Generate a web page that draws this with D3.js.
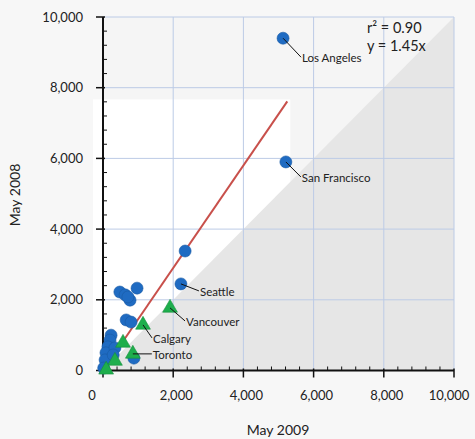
<!DOCTYPE html>
<html>
<head>
<meta charset="utf-8">
<script src="https://cdn.jsdelivr.net/npm/d3@7"></script>
<style>
  html, body { margin: 0; padding: 0; background: #f7f7f7; }
  svg { display: block; font-family: Lato, "Open Sans", sans-serif; }
</style>
</head>
<body>
<script>
(function() {
    'use strict';

    // US metros (blue) and Canadian metros (green): [May 2009, May 2008]
    var blueX = [5130, 5210, 2340, 2220, 480, 630, 770, 970, 710, 660, 800, 230, 200, 140, 85, 60, 20, 340, 290, 880];
    var blueY = [9400, 5900, 3380, 2450, 2220, 2140, 1990, 2330, 2080, 1430, 1370, 1000, 860, 670, 500, 300, 70, 640, 440, 350];
    var greenX = [1910, 1140, 570, 850, 340, 90];
    var greenY = [1770, 1290, 780, 470, 270, 20];

    var labelNames = ['Los Angeles', 'San Francisco', 'Seattle', 'Vancouver', 'Calgary', 'Toronto'];
    var labelX = [5130, 5210, 2220, 1910, 1140, 850];
    var labelY = [9400, 5900, 2450, 1770, 1290, 470];

    var tickValues = [0, 2000, 4000, 6000, 8000, 10000];
    var slope = 1.45;
    var fitEndX = 5250;
    var statLines = ['r\u00b2 = 0.90', 'y = 1.45x'];

    // label offsets in pixels, same order as labelNames
    var labelDx = [19, 16, 19, 16, 10, 20];
    var labelDy = [24, 20, 12, 18, 18, 5];

    var width = 475, height = 439;

    var svg = d3.select('body').append('svg')
        .attr('width', width)
        .attr('height', height);

    svg.append('rect')
        .attr('width', width)
        .attr('height', height)
        .attr('fill', '#f7f7f7');

    var x = d3.scaleLinear().domain([0, 10000]).range([103, 454]);
    var y = d3.scaleLinear().domain([0, 10000]).range([370.5, 17]);

    // plot background
    svg.append('rect')
        .attr('x', x(0)).attr('y', y(10000))
        .attr('width', x(10000) - x(0)).attr('height', y(0) - y(10000))
        .attr('fill', '#f5f5f5');

    // white box behind the fit line
    svg.append('rect')
        .attr('x', x(0) - 10).attr('y', y(fitEndX * slope) - 2)
        .attr('width', x(fitEndX) - x(0) + 13)
        .attr('height', y(0) - y(fitEndX * slope) + 2)
        .attr('fill', '#ffffff');

    // region below y = x
    svg.append('path')
        .attr('d', d3.line()([[x(0), y(0)], [x(10000), y(0)], [x(10000), y(10000)]]) + 'Z')
        .attr('fill', '#e6e6e6');

    // grid
    var grid = svg.append('g');
    grid.selectAll('line.v').data(tickValues.slice(1)).enter().append('line')
        .attr('x1', function(d) { return x(d); }).attr('x2', function(d) { return x(d); })
        .attr('y1', y(10000)).attr('y2', y(0))
        .attr('stroke', '#bccbe6').attr('stroke-width', 1);
    grid.selectAll('line.h').data(tickValues.slice(1)).enter().append('line')
        .attr('y1', function(d) { return y(d); }).attr('y2', function(d) { return y(d); })
        .attr('x1', x(0)).attr('x2', x(10000))
        .attr('stroke', '#bccbe6').attr('stroke-width', 1);

    // minor ticks (inward)
    var minor = d3.range(0, 10001, 400).filter(function(d) { return d % 2000 !== 0; });
    var axes = svg.append('g').attr('stroke', '#111');
    axes.selectAll('line.mx').data(minor).enter().append('line')
        .attr('x1', function(d) { return x(d); }).attr('x2', function(d) { return x(d); })
        .attr('y1', y(0)).attr('y2', y(0) - 4).attr('stroke-width', 1);
    axes.selectAll('line.my').data(minor).enter().append('line')
        .attr('y1', function(d) { return y(d); }).attr('y2', function(d) { return y(d); })
        .attr('x1', x(0)).attr('x2', x(0) + 4).attr('stroke-width', 1);

    // major ticks
    axes.selectAll('line.Mx').data(tickValues).enter().append('line')
        .attr('x1', function(d) { return x(d); }).attr('x2', function(d) { return x(d); })
        .attr('y1', y(0) - 2).attr('y2', y(0) + 7).attr('stroke-width', 1.5);
    axes.selectAll('line.My').data(tickValues).enter().append('line')
        .attr('y1', function(d) { return y(d); }).attr('y2', function(d) { return y(d); })
        .attr('x1', x(0) - 7).attr('x2', x(0) + 2).attr('stroke-width', 1.5);

    axes.append('line')
        .attr('x1', x(0)).attr('x2', x(10000)).attr('y1', y(0)).attr('y2', y(0))
        .attr('stroke-width', 2);
    axes.append('line')
        .attr('x1', x(0)).attr('x2', x(0)).attr('y1', y(0)).attr('y2', y(10000))
        .attr('stroke-width', 2);

    var fmt = d3.format(',');
    svg.append('g').selectAll('text').data(tickValues).enter().append('text')
        .attr('x', function(d) { return d === 0 ? x(d) - 11 : (d === 10000 ? x(d) - 5 : x(d) + 3); })
        .attr('y', 400)
        .attr('text-anchor', 'middle')
        .attr('font-size', 13).attr('fill', '#222')
        .text(fmt);
    svg.append('g').selectAll('text').data(tickValues).enter().append('text')
        .attr('x', 83)
        .attr('y', function(d) { return y(d) + 4.5; })
        .attr('text-anchor', 'end')
        .attr('font-size', 13).attr('fill', '#222')
        .text(fmt);

    svg.append('text')
        .attr('x', 278).attr('y', 435)
        .attr('text-anchor', 'middle')
        .attr('font-size', 14).attr('fill', '#222')
        .text('May 2009');
    svg.append('text')
        .attr('transform', 'translate(20,195) rotate(-90)')
        .attr('text-anchor', 'middle')
        .attr('font-size', 14).attr('fill', '#222')
        .text('May 2008');

    // fit line
    svg.append('line')
        .attr('x1', x(0)).attr('y1', y(0))
        .attr('x2', x(fitEndX)).attr('y2', y(fitEndX * slope))
        .attr('stroke', '#c8504b').attr('stroke-width', 2);

    // points
    svg.append('g').selectAll('circle').data(d3.range(blueX.length)).enter().append('circle')
        .attr('cx', function(i) { return x(blueX[i]); })
        .attr('cy', function(i) { return y(blueY[i]); })
        .attr('r', 6)
        .attr('fill', '#1f6bc2')
        .attr('stroke', '#1a5aa5').attr('stroke-width', 0.6);

    var tri = d3.symbol().type(d3.symbolTriangle).size(95);
    svg.append('g').selectAll('path').data(d3.range(greenX.length)).enter().append('path')
        .attr('transform', function(i) { return 'translate(' + x(greenX[i]) + ',' + y(greenY[i]) + ')'; })
        .attr('d', tri)
        .attr('fill', '#1eae4c')
        .attr('stroke', '#14903a').attr('stroke-width', 0.6);

    // labels with leaders
    var lab = svg.append('g');
    labelNames.forEach(function(name, i) {
        var px = x(labelX[i]), py = y(labelY[i]);
        var tx = px + labelDx[i], ty = py + labelDy[i];
        lab.append('line')
            .attr('x1', px).attr('y1', py)
            .attr('x2', tx - 1).attr('y2', ty - 5)
            .attr('stroke', '#111').attr('stroke-width', 1);
        lab.append('text')
            .attr('x', tx).attr('y', ty)
            .attr('font-size', 11.5).attr('fill', '#222')
            .text(name);
    });

    svg.append('g').selectAll('text').data(statLines).enter().append('text')
        .attr('x', 367)
        .attr('y', function(d, i) { return 33 + i * 18; })
        .attr('font-size', 14.5).attr('fill', '#222')
        .text(function(d) { return d; });
}());
</script>
</body>
</html>
